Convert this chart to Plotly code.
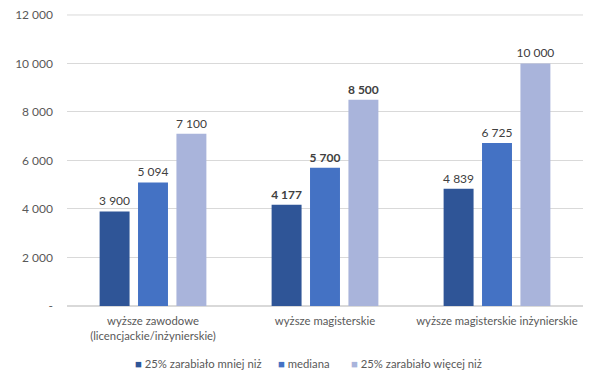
import plotly.graph_objects as go

categories = ["wyższe zawodowe<br>(licencjackie/inżynierskie)", "wyższe magisterskie", "wyższe magisterskie inżynierskie"]
series_names = ["25% zarabiało mniej niż", "mediana", "25% zarabiało więcej niż"]
low25 = [3900, 4177, 4839]
median = [5094, 5700, 6725]
high25 = [7100, 8500, 10000]
tick_vals = [0, 2000, 4000, 6000, 8000, 10000, 12000]
tick_text = ["-", "2 000", "4 000", "6 000", "8 000", "10 000", "12 000"]
colors = ["#2F5597", "#4472C4", "#A9B4DB"]
FONT = "Lato, sans-serif"

def fmt(v):
    return f"{v:,}".replace(",", " ")

def labels(vals):
    out = []
    for i, v in enumerate(vals):
        s = fmt(v)
        if i == 1:
            s = "<b>" + s + "</b>"
        out.append(s)
    return out

fig = go.Figure()
for name, vals, c in zip(series_names, [low25, median, high25], colors):
    fig.add_trace(go.Bar(
        x=categories, y=vals, name=name, marker_color=c, marker_line_width=0,
        text=labels(vals), textposition="outside", cliponaxis=False,
        constraintext="none", showlegend=False,
        textfont=dict(size=12, color="#404040", family=FONT),
    ))

# legend drawn as text annotations with square glyphs
leg_x = [0.128, 0.405, 0.546]
for name, c, lx in zip(series_names, colors, leg_x):
    fig.add_annotation(
        x=lx, y=-0.196, xref="paper", yref="paper", xanchor="left", yanchor="middle",
        text=f"<span style='color:{c}'>■</span> {name}", showarrow=False,
        font=dict(size=11.3, color="#595959", family=FONT),
    )

# top gridline drawn explicitly so it is fully visible
fig.add_shape(type="line", xref="paper", yref="y", x0=0, x1=1,
              y0=tick_vals[-1], y1=tick_vals[-1],
              line=dict(color="#D9D9D9", width=1), layer="below")

fig.update_layout(
    width=583, height=366,
    margin=dict(l=59, r=8, t=6, b=68, autoexpand=False),
    paper_bgcolor="white", plot_bgcolor="white",
    barmode="group", bargap=0.33, bargroupgap=0.22,
    font=dict(family=FONT, size=12, color="#595959"),
    showlegend=False,
    yaxis=dict(range=[0, 12040], tickvals=tick_vals, ticktext=tick_text,
               showgrid=True, gridcolor="#D9D9D9", gridwidth=1, zeroline=True,
               zerolinecolor="#D9D9D9", ticks="", ticklabelstandoff=13,
               ticklabeloverflow="allow",
               tickfont=dict(size=12, color="#595959", family=FONT)),
    xaxis=dict(showline=False, ticks="", ticklabelstandoff=7,
               tickfont=dict(size=11.3, color="#595959", family=FONT)),
)

fig.write_html("out.html")
